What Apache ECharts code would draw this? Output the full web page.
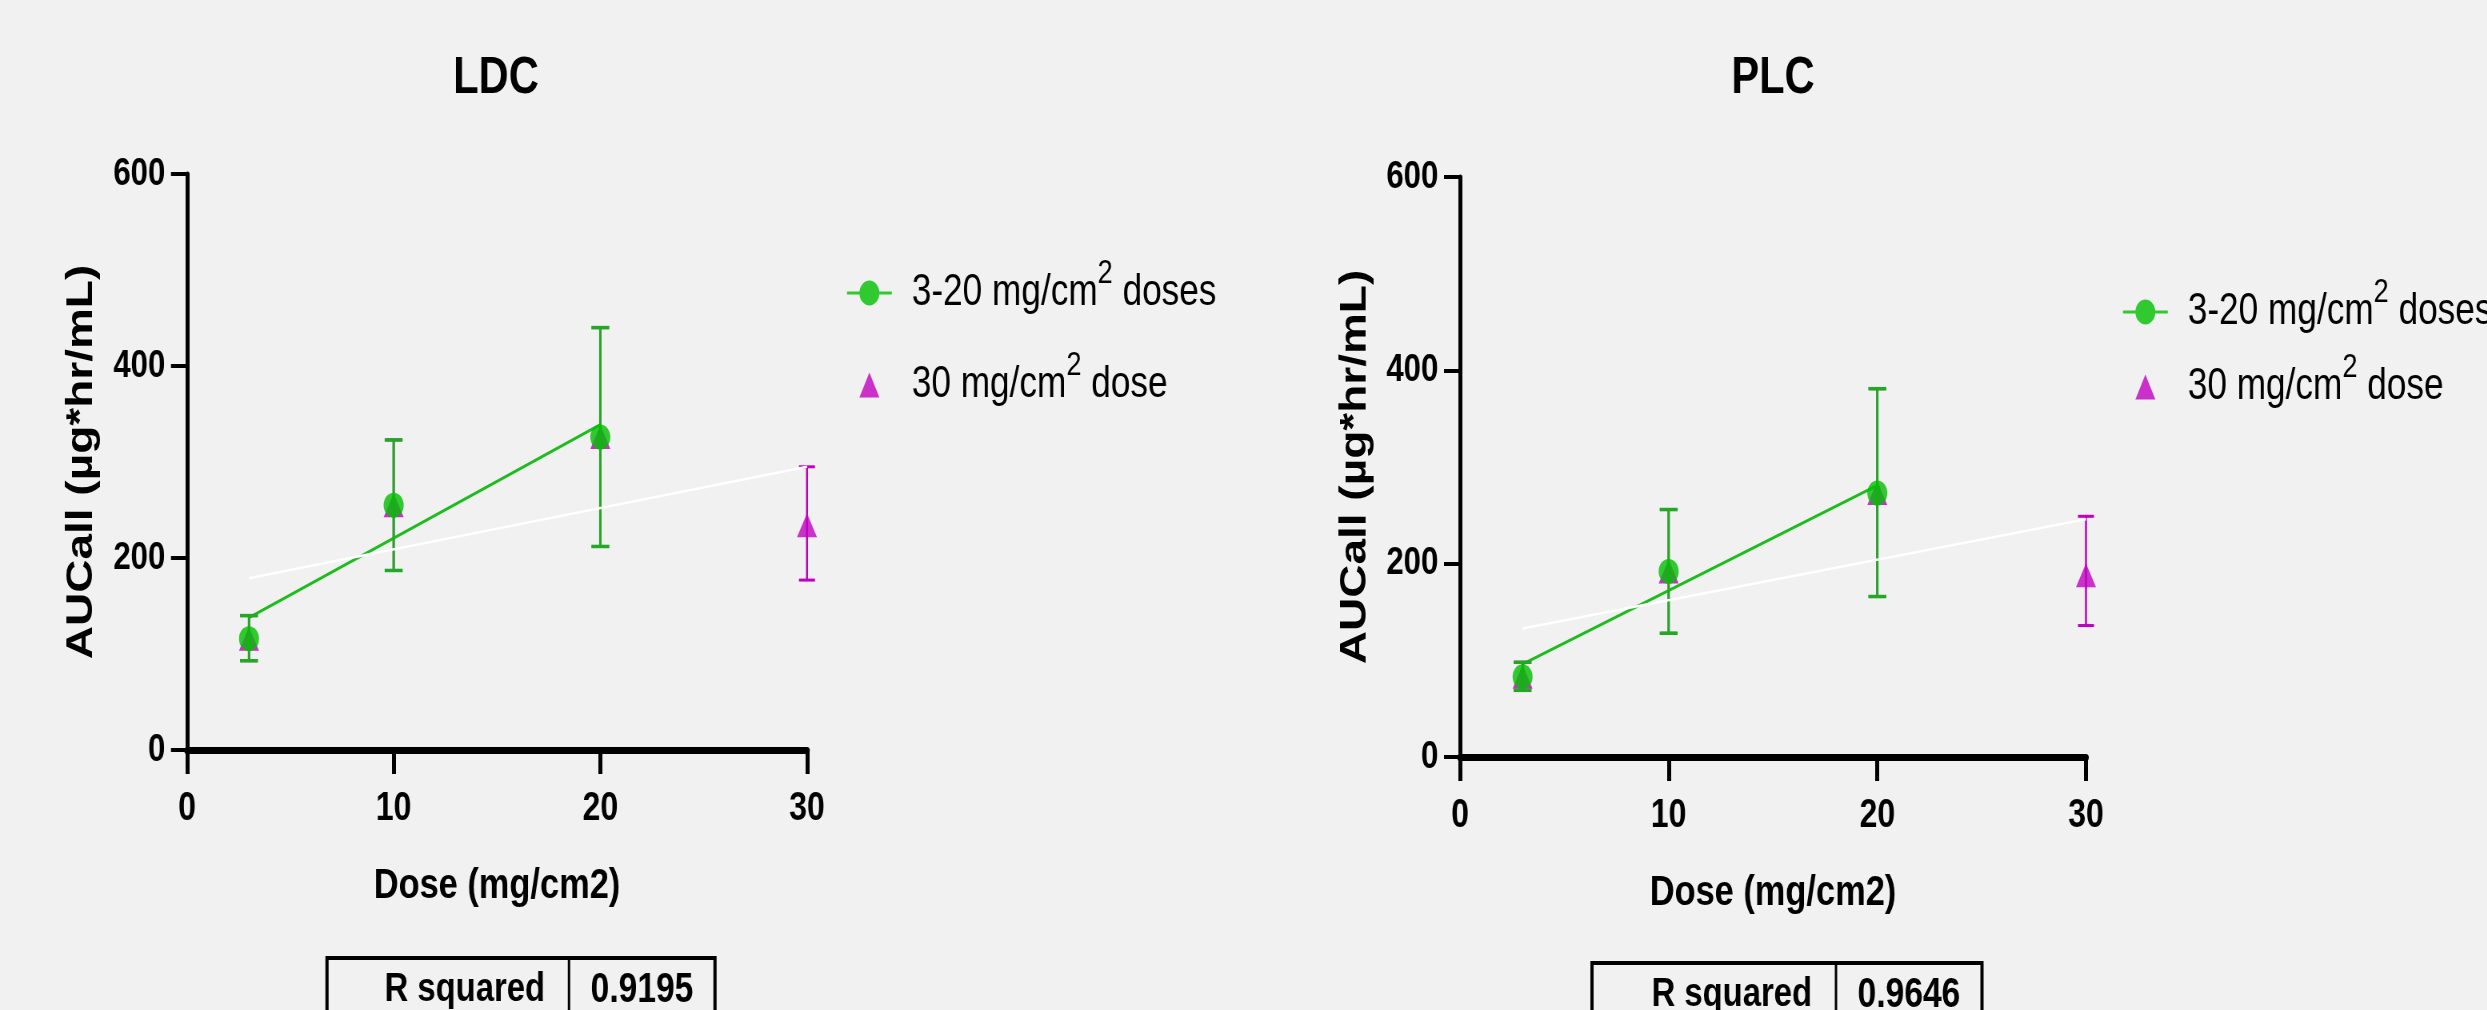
<!DOCTYPE html>
<html><head><meta charset="utf-8">
<script src="https://cdn.jsdelivr.net/npm/echarts@6/dist/echarts.min.js"></script>
<style>
html,body{margin:0;padding:0;background:#f1f1f1;overflow:hidden;width:2487px;height:1010px}
#wrap{width:3109px;height:1010px;transform:scaleX(0.8);transform-origin:0 0}
#c{width:3109px;height:1010px}
</style>
</head><body><div id="wrap"><div id="c"></div></div><script>
// ---------- data ----------
const doses = [3, 10, 20, 30];
const greenDoses = [3, 10, 20];
const ldcMean = [116, 255, 326, 234];
const ldcLow  = [93, 187, 212, 177];
const ldcHigh = [140, 323, 440, 295];
const plcMean = [83, 192, 273, 188];
const plcLow  = [69, 128, 166, 136];
const plcHigh = [98, 256, 381, 249];
const fitGreenX = [3, 20];
const ldcFitGreen = [138, 339];
const plcFitGreen = [96, 281];
const fitAllX = [3, 30];
const ldcFitAll = [179, 295];
const plcFitAll = [133, 246];
const panelTitles = ['LDC', 'PLC'];
const rSquaredLabel = 'R squared';
const rSquared = ['0.9195', '0.9646'];
const legendNames = ['3-20 mg/cm² doses', '30 mg/cm² dose'];
const xAxisName = 'Dose (mg/cm2)';
const yAxisName = 'AUCall (µg*hr/mL)';
const xTicks = [0, 10, 20, 30];
const yTicks = [0, 200, 400, 600];

// ---------- style / layout ----------
// The figure is drawn on a wider canvas and squeezed horizontally (like the original figure).
const SX = 0.8;
const X = v => v / SX;
const FONT = "'Liberation Sans',Arial,sans-serif";
const GREEN = '#00c000', GREEN_BAR = '#22a822', GREEN_LINE = '#1cbc1c', MAG = '#c000c0';
const panels = [
  {mean: ldcMean, low: ldcLow, high: ldcHigh, fitG: ldcFitGreen, fitA: ldcFitAll,
   grid: {left: X(187), top: 174, width: X(620), height: 576}, titleX: X(492),
   legend: {left: X(843), top: 252, gap: 20},
   table: {x: X(327), y: 958, wL: X(242), wR: X(146)}},
  {mean: plcMean, low: plcLow, high: plcHigh, fitG: plcFitGreen, fitA: plcFitAll,
   grid: {left: X(1460), top: 177, width: X(626), height: 580}, titleX: X(1769),
   legend: {left: X(2119), top: 271, gap: 3},
   table: {x: X(1592), y: 963, wL: X(244), wR: X(146)}}
];

function errRender(capW, color, lw) {
  return function (params, api) {
    const x = api.value(0), lo = api.value(1), hi = api.value(2);
    const p1 = api.coord([x, hi]), p2 = api.coord([x, lo]);
    return {type: 'group', children: [
      {type: 'line', shape: {x1: p1[0], y1: p1[1], x2: p2[0], y2: p2[1]}, style: {stroke: color, lineWidth: lw}},
      {type: 'line', shape: {x1: p1[0] - capW / 2, y1: p1[1], x2: p1[0] + capW / 2, y2: p1[1]}, style: {stroke: color, lineWidth: lw + 0.5}},
      {type: 'line', shape: {x1: p2[0] - capW / 2, y1: p2[1], x2: p2[0] + capW / 2, y2: p2[1]}, style: {stroke: color, lineWidth: lw + 0.5}}
    ]};
  };
}

const greenIcon = 'path://M0,11L15.5,11L15.5,14L0,14Z M40.5,11L56,11L56,14L40.5,14Z M15.5,12.5A12.5,12.5 0 1 0 40.5,12.5A12.5,12.5 0 1 0 15.5,12.5Z';
const triIcon = 'path://M0,12L0.05,12L0,12.05Z M56,12L55.95,12L56,12.05Z M28,0L40.5,25L15.5,25Z';

const grids = [], xAxes = [], yAxes = [], series = [], titles = [], legends = [], graphics = [];
panels.forEach((p, i) => {
  grids.push(Object.assign({containLabel: false}, p.grid));
  xAxes.push({
    type: 'value', gridIndex: i, min: xTicks[0], max: xTicks[xTicks.length - 1], interval: 10,
    name: xAxisName, nameLocation: 'middle', nameGap: 115,
    nameTextStyle: {fontFamily: FONT, fontWeight: 'bold', fontSize: 43, color: '#000'},
    axisLine: {show: true, onZero: false, lineStyle: {color: '#000', width: 7}},
    axisTick: {show: true, length: 24, lineStyle: {color: '#000', width: 5}},
    axisLabel: {margin: 39, fontFamily: FONT, fontWeight: 'bold', fontSize: 40, color: '#000'},
    splitLine: {show: false}
  });
  yAxes.push({
    type: 'value', gridIndex: i, min: yTicks[0], max: yTicks[yTicks.length - 1], interval: 200,
    name: yAxisName, nameLocation: 'middle', nameGap: 108,
    nameTextStyle: {fontFamily: FONT, fontWeight: 'bold', fontSize: 46, color: '#000'},
    axisLine: {show: true, lineStyle: {color: '#000', width: 5}},
    axisTick: {show: true, length: 20, lineStyle: {color: '#000', width: 4}},
    axisLabel: {margin: 27, fontFamily: FONT, fontWeight: 'bold', fontSize: 39, color: '#000'},
    splitLine: {show: false}
  });
  // magenta error bars (behind)
  series.push({type: 'custom', xAxisIndex: i, yAxisIndex: i, z: 2, silent: true,
    renderItem: errRender(20, MAG, 2.5), encode: {x: 0, y: [1, 2]},
    data: doses.map((d, k) => [d, p.low[k], p.high[k]])});
  series.push({type: 'scatter', name: legendNames[1], xAxisIndex: i, yAxisIndex: i, z: 3,
    symbol: 'triangle', symbolSize: [25, 24], itemStyle: {color: MAG},
    data: doses.map((d, k) => [d, p.mean[k]])});
  series.push({type: 'line', xAxisIndex: i, yAxisIndex: i, z: 4, silent: true, showSymbol: false,
    lineStyle: {color: GREEN_LINE, width: 3},
    data: fitGreenX.map((d, k) => [d, p.fitG[k]])});
  series.push({type: 'custom', xAxisIndex: i, yAxisIndex: i, z: 5, silent: true,
    renderItem: errRender(22.5, GREEN_BAR, 3), encode: {x: 0, y: [1, 2]},
    data: greenDoses.map((d, k) => [d, p.low[k], p.high[k]])});
  series.push({type: 'scatter', name: legendNames[0], xAxisIndex: i, yAxisIndex: i, z: 6,
    symbol: 'circle', symbolSize: [25, 25], itemStyle: {color: GREEN},
    data: greenDoses.map((d, k) => [d, p.mean[k]])});
  series.push({type: 'line', xAxisIndex: i, yAxisIndex: i, z: 7, silent: true, showSymbol: false,
    lineStyle: {color: '#ffffff', width: 2.5},
    data: fitAllX.map((d, k) => [d, p.fitA[k]])});

  titles.push({text: panelTitles[i], left: p.titleX, top: 48, textAlign: 'center',
    textStyle: {fontFamily: FONT, fontWeight: 'bold', fontSize: 52, color: '#000'}});

  legends.push({
    orient: 'vertical', left: p.legend.left, top: p.legend.top, itemGap: p.legend.gap,
    itemWidth: 56, itemHeight: 25, selectedMode: false,
    data: [{name: legendNames[0], icon: greenIcon}, {name: legendNames[1], icon: triIcon}],
    formatter: n => n.replace('²', '{sup|2}'),
    textStyle: {fontFamily: FONT, fontSize: 44, color: '#000', lineHeight: 72, padding: [0, 0, 0, 20],
      rich: {sup: {fontFamily: FONT, fontSize: 34, lineHeight: 34, verticalAlign: 'top'}}}
  });

  const t = p.table;
  graphics.push(
    {type: 'rect', shape: {x: t.x, y: t.y, width: t.wL + t.wR, height: 90},
     style: {fill: 'rgba(0,0,0,0)', stroke: '#000', lineWidth: 4}},
    {type: 'line', shape: {x1: t.x + t.wL, y1: t.y, x2: t.x + t.wL, y2: t.y + 90},
     style: {stroke: '#000', lineWidth: 3}},
    {type: 'text', x: t.x + t.wL - 30, y: t.y + 32,
     style: {text: rSquaredLabel, align: 'right', verticalAlign: 'middle', fontFamily: FONT, fontWeight: 'bold', fontSize: 41, fill: '#000'}},
    {type: 'text', x: t.x + t.wL + t.wR / 2, y: t.y + 32,
     style: {text: rSquared[i], align: 'center', verticalAlign: 'middle', fontFamily: FONT, fontWeight: 'bold', fontSize: 42, fill: '#000'}}
  );
});

const chart = echarts.init(document.getElementById('c'), null, {renderer: 'canvas'});
chart.setOption({
  backgroundColor: '#f1f1f1',
  animation: false,
  title: titles,
  legend: legends,
  grid: grids,
  xAxis: xAxes,
  yAxis: yAxes,
  series: series,
  graphic: graphics
});
</script></body></html>
